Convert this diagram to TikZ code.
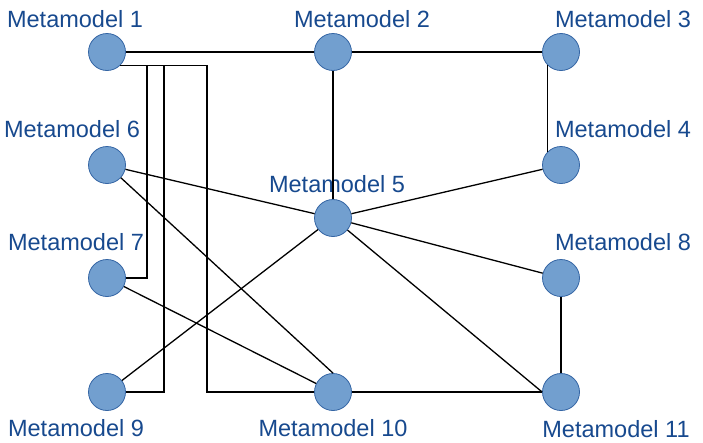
\documentclass[tikz,border=0pt]{standalone}
\usepackage{fontspec}
\setmainfont{Liberation Sans}
\usepackage{tikz}
\usepackage{xcolor}
\definecolor{mmfill}{HTML}{729FCF}
\definecolor{mmline}{HTML}{3465A4}
\definecolor{mmtext}{HTML}{17498E}

\begin{document}
\begin{tikzpicture}[x=1pt, y=-1pt,
    mm/.style={circle, minimum size=37pt, inner sep=0pt, fill=mmfill, draw=mmline, line width=.8pt},
    lbl/.style={anchor=base, text=mmtext, font=\fontsize{23.5}{28}\selectfont, inner sep=0pt},
    wire/.style={draw=black, line width=1.3pt}]
    \useasboundingbox (0,0) rectangle (703,442);
    % models
    \node[mm] (M1) at (107,52) {};   \node[mm] (M2) at (333,52) {};   \node[mm] (M3) at (561,52) {};
    \node[mm] (M6) at (107,165) {};  \node[mm] (M4) at (561,165) {};
    \node[mm] (M5) at (333,218) {};
    \node[mm] (M7) at (107,278) {};  \node[mm] (M8) at (561,278) {};
    \node[mm] (M9) at (107,392) {};  \node[mm] (M10) at (333,392) {}; \node[mm] (M11) at (561,392) {};
    % names
    \node[lbl] (L1) at (75,27) {Metamodel 1};
    \node[lbl] (L2) at (362,27) {Metamodel 2};
    \node[lbl] (L3) at (623,27) {Metamodel 3};
    \node[lbl] (L6) at (72,137) {Metamodel 6};
    \node[lbl] (L4) at (623,137) {Metamodel 4};
    \node[lbl] (L5) at (337,192) {Metamodel 5};
    \node[lbl] (L7) at (76,250) {Metamodel 7};
    \node[lbl] (L8) at (623,250) {Metamodel 8};
    \node[lbl] (L9) at (76,436) {Metamodel 9};
    \node[lbl] (L10) at (333,436) {Metamodel 10};
    \node[lbl] (L11) at (616,437) {Metamodel 11};
    % links
    \draw[wire] (M1) -- (M2);
    \draw[wire] (M2) -- (M3);
    \draw[wire] (M3.south west) -- (M4.north west);
    \draw[wire] (M2) -- (M5);
    \draw[wire] (M5) -- (M4);
    \draw[wire] (M6) -- (M5);
    \draw[wire] (M6) -- (M10.north);
    \draw[wire] (M7) -- (M10);
    \draw[wire] (M9) -- (M5);
    \draw[wire] (M5) -- (M8);
    \draw[wire] (M5) -- (M11.west);
    \draw[wire] (M10) -- (M11);
    \draw[wire] (M8) -- (M11);
    \draw[wire] (M1.south east) -| ([xshift=21pt]M7.east) -- (M7.east);
    \draw[wire] (M1.south east) -| ([xshift=38pt]M9.east) -- (M9.east);
    \draw[wire] (M1.south east) -| ([xshift=-107pt]M10.west) -- (M10.west);
\end{tikzpicture}
\end{document}
